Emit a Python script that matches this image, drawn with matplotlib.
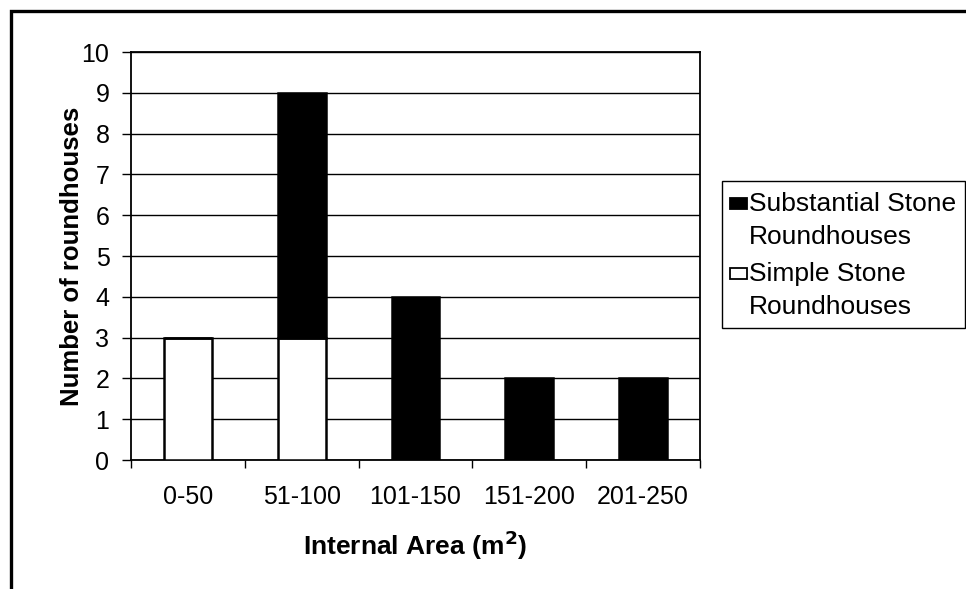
import matplotlib
matplotlib.use("Agg")
import matplotlib.pyplot as plt
from matplotlib.patches import Rectangle
import numpy as np

plt.rcParams['font.family'] = ['Liberation Sans', 'DejaVu Sans']

categories = ["0-50", "51-100", "101-150", "151-200", "201-250"]
simple_stone = [3, 3, 0, 0, 0]
substantial_stone = [0, 6, 4, 2, 2]
y_ticks = list(range(0, 11))
legend_labels = ["Substantial Stone\nRoundhouses", "Simple Stone\nRoundhouses"]
legend_colors = ["black", "white"]

W, H = 966, 589
fig = plt.figure(figsize=(W / 100, H / 100), dpi=100)


def px(x, y):
    """Pixel position (from top-left) to figure fraction."""
    return x / W, 1 - y / H


# outer chart frame (runs off the right and bottom edges)
fig.patches.append(Rectangle((11 / W, -0.05), 1.2, 1 - 11 / H + 0.05,
                             transform=fig.transFigure, fill=False,
                             edgecolor='black', linewidth=2.4, zorder=0))

ax = fig.add_axes([131 / W, 1 - 460 / H, (700 - 131) / W, (460 - 52) / H])

x = np.arange(len(categories))
bw = 0.42
ax.bar(x, simple_stone, bw, color='white', edgecolor='black', linewidth=1.8, zorder=3)
ax.bar(x, substantial_stone, bw, bottom=simple_stone, color='black',
       edgecolor='black', linewidth=1.8, zorder=3)

ax.set_xlim(-0.5, len(categories) - 0.5)
ax.set_ylim(0, 10)
ax.set_yticks(y_ticks)
ax.set_yticklabels([str(v) for v in y_ticks], fontsize=18)
ax.yaxis.grid(True, color='black', linewidth=1.0, zorder=0)
ax.set_axisbelow(True)

ax.set_xticks(x)
ax.set_xticklabels(categories, fontsize=18)
ax.tick_params(axis='x', length=0, pad=18)
ax.set_xticks(np.arange(len(categories) + 1) - 0.5, minor=True)
ax.tick_params(axis='x', which='minor', length=6, width=1.0, direction='out')
ax.tick_params(axis='y', length=6.5, width=1.0, direction='out', pad=9)

for s in ax.spines.values():
    s.set_linewidth(1.3)
    s.set_color('black')

ax.set_ylabel('Number of roundhouses', fontsize=18.5, fontweight='bold')
ax.yaxis.set_label_coords(-0.083, 0.5)
ax.set_xlabel('Internal Area (m$^\\mathbf{2}$)', fontsize=19, fontweight='bold')
ax.xaxis.set_label_coords(0.5, -0.167)

# legend box drawn on the figure
lx0, ly0, lx1, ly1 = 722, 181, 965, 328
fig.patches.append(Rectangle(px(lx0, ly1), (lx1 - lx0) / W, (ly1 - ly0) / H,
                             transform=fig.transFigure, facecolor='white',
                             edgecolor='black', linewidth=1.0, zorder=5))
for i, (lab, col) in enumerate(zip(legend_labels, legend_colors)):
    top = 193 + i * 70
    fig.patches.append(Rectangle(px(730, top + 16), 17 / W, 11 / H,
                                 transform=fig.transFigure, facecolor=col,
                                 edgecolor='black', linewidth=1.3, zorder=6))
    fig.text(*px(749, top - 1), lab, fontsize=19, ha='left', va='top',
             linespacing=1.48, zorder=6)

fig.savefig('out.png', dpi=100)
